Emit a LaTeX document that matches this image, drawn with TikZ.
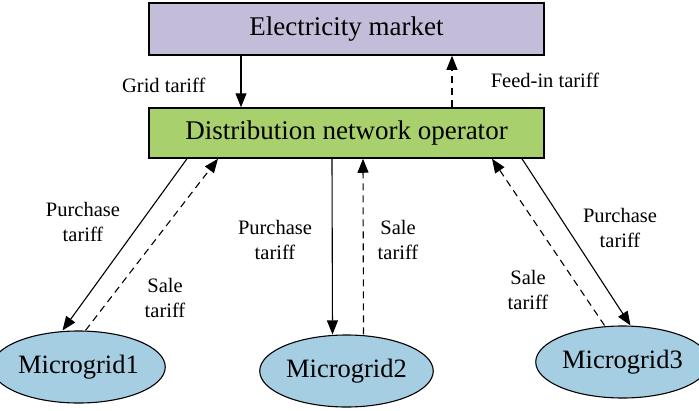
\documentclass[tikz,border=0pt]{standalone}
\usepackage{fontspec}
\setmainfont{Liberation Serif}
\usetikzlibrary{shapes,arrows.meta}
\definecolor{marketfill}{RGB}{195,189,218}
\definecolor{dnofill}{RGB}{168,208,108}
\definecolor{gridfill}{RGB}{166,206,226}
\tikzstyle{block} = [rectangle, draw, line width=1.5pt, minimum width=395pt,
    text centered, font=\fontsize{27}{31}\selectfont]
\tikzstyle{cloud} = [draw, ellipse, fill=gridfill, line width=1.1pt,
    minimum width=150pt, minimum height=72pt, inner sep=1pt,
    font=\fontsize{26.5}{30}\selectfont]
\tikzstyle{tag} = [align=center, font=\fontsize{20.5}{25}\selectfont]
\tikzstyle{line} = [draw, line width=1.1pt, -{Triangle[length=14pt,width=11pt]}]
\tikzstyle{back} = [line, dash pattern=on 7pt off 5pt]

\begin{document}
\begin{tikzpicture}[x=1pt, y=-1pt]
    \useasboundingbox (0,0) rectangle (699,410);
    % Place nodes
    \node [block, fill=marketfill, minimum height=52pt] (market) at (346.5,29) {Electricity market};
    \node [block, fill=dnofill, minimum height=50pt, below of=market, node distance=104pt] (dno) {Distribution network operator};
    \node [cloud, below of=dno, node distance=238pt] (mg2) {Microgrid2};
    \node [cloud, left of=mg2, node distance=268pt, yshift=4pt] (mg1) {Microgrid1};
    \node [cloud, right of=mg2, node distance=276pt, yshift=9pt] (mg3) {Microgrid3};

    % Labels
    \node [tag, anchor=east] (grid_t) at (209,85) {Grid tariff};
    \node [tag] (feed_t) at (545,80) {Feed-in tariff};
    \node [tag] (buy1) at (83,222) {Purchase\\tariff};
    \node [tag] (sell1) at (165,298) {Sale\\tariff};
    \node [tag] (buy2) at (275,240) {Purchase\\tariff};
    \node [tag] (sell2) at (398,240) {Sale\\tariff};
    \node [tag] (buy3) at (620,228) {Purchase\\tariff};
    \node [tag] (sell3) at (528,290) {Sale\\tariff};

    % Connectors
    \path [line] ([xshift=-105.5pt]market.south) -- ([xshift=-105.5pt]dno.north);
    \path [back] ([xshift=105.5pt]dno.north) -- ([xshift=105.5pt]market.south);
    \path [line] ([xshift=-159.5pt]dno.south) -- ([xshift=-16pt]mg1.north);
    \path [back] ([xshift=7pt]mg1.north) -- ([xshift=-128.5pt]dno.south);
    \path [line] ([xshift=-14.5pt]dno.south) -- ([xshift=-14pt]mg2.north);
    \path [back] ([xshift=17pt]mg2.north) -- ([xshift=16.5pt]dno.south);
    \path [line] ([xshift=175.5pt]dno.south) -- ([xshift=8pt]mg3.north);
    \path [back] ([xshift=-18pt]mg3.north) -- ([xshift=145.5pt]dno.south);
\end{tikzpicture}
\end{document}
